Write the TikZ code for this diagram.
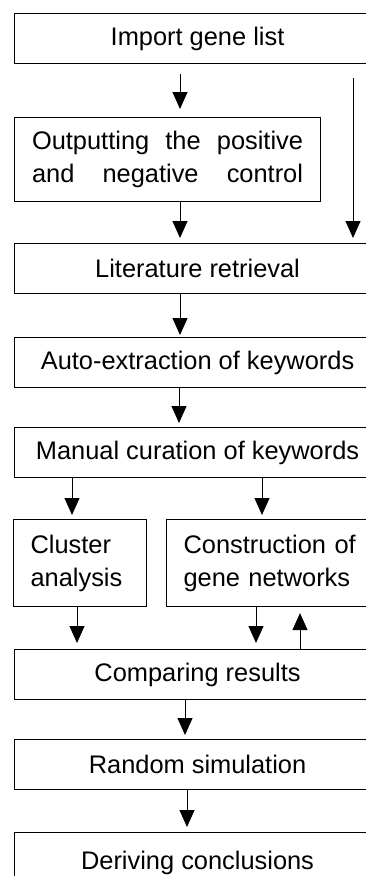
\documentclass[tikz,border=0pt]{standalone}
\usepackage{fontspec}
\setmainfont{Liberation Sans}
\usetikzlibrary{arrows.meta}

\begin{document}
\begin{tikzpicture}[x=1pt,y=-1pt,
  box/.style={draw,line width=1.1pt,rectangle,anchor=north west,inner sep=0pt,
    font=\fontsize{25.4}{33}\selectfont,align=center},
  wide/.style={box,minimum width=366pt,minimum height=50pt},
  twoline/.style={box,align=left,inner xsep=17pt,inner ysep=0pt,minimum height=87pt},
  arr/.style={line width=1pt,-{Triangle[length=17pt,width=15pt]}}]

\useasboundingbox (0,0) rectangle (366,876);
\clip (0,0) rectangle (366,876);

% process boxes
\node[wide] (imp) at (14,13) {Import gene list};
\node[box,minimum width=306pt,minimum height=84pt] (out) at (14,117)
  {\makebox[271pt][s]{Outputting the positive}\\\makebox[271pt][s]{and negative control}};
\node[wide] (lit) at (14,243) {Literature retrieval};
\node[wide] (ext) at (14,337) {Auto-extraction of keywords};
\node[wide] (man) at (14,427) {Manual curation of keywords};
\node[twoline,text width=99pt] (clu) at (13,519) {Cluster\\analysis};
\node[twoline,text width=180pt] (con) at (166,519)
  {\makebox[177pt][s]{Construction of}\\gene networks};
\node[wide] (cmp) at (14,649) {Comparing results};
\node[wide] (rnd) at (14,739) {Random simulation};
\node[wide,minimum height=60pt] (der) at (14,832) {Deriving conclusions};

% x positions of the connectors
\coordinate (xa) at (180,0);
\coordinate (xb) at (353,0);
\coordinate (xc) at (179,0);
\coordinate (xd) at (72,0);
\coordinate (xe) at (262,0);
\coordinate (xf) at (77,0);
\coordinate (xg) at (256,0);
\coordinate (xh) at (300,0);
\coordinate (xi) at (185,0);
\coordinate (xj) at (187,0);

% connectors
\draw[arr,shorten <=10pt,shorten >=8pt] (imp.south -| xa) -- (out.north -| xa);
\draw[arr,shorten <=14pt,shorten >=5pt] (imp.south -| xb) -- (lit.north -| xb);
\draw[arr,shorten >=5pt] (out.south -| xa) -- (lit.north -| xa);
\draw[arr,shorten >=2pt] (lit.south -| xa) -- (ext.north -| xa);
\draw[arr,shorten >=4pt] (ext.south -| xc) -- (man.north -| xc);
\draw[arr,shorten >=4pt] (man.south -| xd) -- (clu.north -| xd);
\draw[arr,shorten >=4pt] (man.south -| xe) -- (con.north -| xe);
\draw[arr,shorten >=6pt] (clu.south -| xf) -- (cmp.north -| xf);
\draw[arr,shorten >=6pt] (con.south -| xg) -- (cmp.north -| xg);
\draw[arr,shorten >=6pt] (cmp.north -| xh) -- (con.south -| xh);
\draw[arr,shorten >=4pt] (cmp.south -| xi) -- (rnd.north -| xi);
\draw[arr,shorten >=5pt] (rnd.south -| xj) -- (der.north -| xj);
\end{tikzpicture}
\end{document}
